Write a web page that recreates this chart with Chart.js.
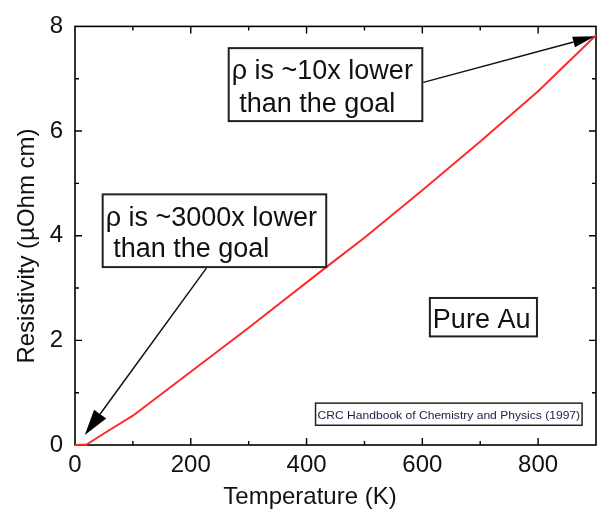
<!DOCTYPE html>
<html>
<head>
<meta charset="utf-8">
<script src="https://cdn.jsdelivr.net/npm/chart.js@4.4.1/dist/chart.umd.min.js"></script>
<style>
  html, body { margin: 0; padding: 0; background: #ffffff; }
  #wrap { width: 597px; height: 512px; }
</style>
</head>
<body>
<div id="wrap"><canvas id="c" width="597" height="512"></canvas></div>
<script>
// ---- data ----
const temperatures = [0, 20, 50, 100, 150, 200, 250, 300, 434, 500, 600, 700, 800, 900];
const resistivity  = [0, 0.01, 0.22, 0.56, 0.98, 1.40, 1.82, 2.24, 3.40, 3.96, 4.87, 5.80, 6.76, 7.83];
const xTickValues = [0, 200, 400, 600, 800];
const yTickValues = [0, 2, 4, 6, 8];
const xTitle = "Temperature (K)";
const yTitle = "Resistivity (µOhm cm)";
const noteTop = ["ρ is ~10x lower", " than the goal"];
const noteLow = ["ρ is ~3000x lower", " than the goal"];
const noteMaterial = ["Pure Au"];
const noteSource = ["CRC Handbook of Chemistry and Physics (1997)"];

const FONT = "'Liberation Sans', Arial, Helvetica, sans-serif";

// annotation layout (data units)
const annotations = {
  boxes: [
    { lines: noteTop, x0: 265.5, x1: 600, y0: 7.585, y1: 6.19, size: 27, padX: 3, base: [31, 64] },
    { lines: noteLow, x0: 47.8, x1: 434, y0: 4.79, y1: 3.40, size: 27, padX: 3, base: [31.5, 63] },
    { lines: noteMaterial, x0: 613, x1: 798, y0: 2.81, y1: 2.075, size: 27, padX: 3, base: [30.5] },
    { lines: noteSource, x0: 415.5, x1: 876, y0: 0.80, y1: 0.377, size: 11, padX: 2, base: [15.5], fit: true, color: '#1c1c48', lw: 1.5 }
  ],
  arrows: [
    { from: [601.7, 6.93], to: [898, 7.81], head: 22, half: 5.5 },
    { from: [227, 3.38], to: [17, 0.19], head: 26, half: 7.5 }
  ]
};

const framePlugin = {
  id: 'frame',
  beforeDatasetsDraw(chart) {
    const ctx = chart.ctx;
    const xs = chart.scales.x, ys = chart.scales.y;
    const a = chart.chartArea;
    ctx.save();
    ctx.strokeStyle = '#000';
    ctx.lineWidth = 1.6;
    ctx.strokeRect(a.left, a.top, a.right - a.left, a.bottom - a.top);
    ctx.lineWidth = 1.4;
    for (let v = 100; v < 900; v += 100) {
      const px = xs.getPixelForValue(v);
      const len = (v % 200 === 0) ? 7 : 4;
      ctx.beginPath();
      ctx.moveTo(px, a.bottom); ctx.lineTo(px, a.bottom - len);
      ctx.moveTo(px, a.top); ctx.lineTo(px, a.top + len);
      ctx.stroke();
    }
    for (let v = 1; v < 8; v += 1) {
      const py = ys.getPixelForValue(v);
      const len = (v % 2 === 0) ? 7 : 4;
      ctx.beginPath();
      ctx.moveTo(a.left, py); ctx.lineTo(a.left + len, py);
      ctx.moveTo(a.right, py); ctx.lineTo(a.right - len, py);
      ctx.stroke();
    }
    ctx.restore();
  },
  afterDraw(chart) {
    const ctx = chart.ctx;
    const xs = chart.scales.x, ys = chart.scales.y;
    ctx.save();
    // axis titles
    ctx.fillStyle = '#111';
    ctx.font = '24px ' + FONT;
    ctx.textAlign = 'center';
    ctx.textBaseline = 'middle';
    ctx.fillText(xTitle, 310, 497);
    ctx.save();
    ctx.translate(27, 246);
    ctx.rotate(-Math.PI / 2);
    ctx.fillText(yTitle, 0, 0);
    ctx.restore();

    // boxes with text
    annotations.boxes.forEach(b => {
      const x0 = xs.getPixelForValue(b.x0), x1 = xs.getPixelForValue(b.x1);
      const y0 = ys.getPixelForValue(b.y0), y1 = ys.getPixelForValue(b.y1);
      ctx.fillStyle = '#fff';
      ctx.fillRect(x0, y0, x1 - x0, y1 - y0);
      ctx.strokeStyle = '#222';
      ctx.lineWidth = b.lw || 2;
      ctx.strokeRect(x0, y0, x1 - x0, y1 - y0);
      ctx.fillStyle = b.color || '#111';
      ctx.font = b.size + 'px ' + FONT;
      ctx.textAlign = 'left';
      ctx.textBaseline = 'alphabetic';
      b.lines.forEach((t, i) => {
        if (b.fit) {
          const w = ctx.measureText(t).width;
          const target = (x1 - x0) - 2 * b.padX;
          ctx.save();
          ctx.translate(x0 + b.padX, y0 + b.base[i]);
          ctx.scale(target / w, 1);
          ctx.fillText(t, 0, 0);
          ctx.restore();
        } else {
          ctx.fillText(t, x0 + b.padX, y0 + b.base[i]);
        }
      });
    });

    // arrows
    annotations.arrows.forEach(ar => {
      const fx = xs.getPixelForValue(ar.from[0]), fy = ys.getPixelForValue(ar.from[1]);
      const tx = xs.getPixelForValue(ar.to[0]), ty = ys.getPixelForValue(ar.to[1]);
      const ang = Math.atan2(ty - fy, tx - fx);
      const bx = tx - ar.head * Math.cos(ang), by = ty - ar.head * Math.sin(ang);
      ctx.strokeStyle = '#111';
      ctx.lineWidth = 1.5;
      ctx.beginPath();
      ctx.moveTo(fx, fy); ctx.lineTo(bx, by);
      ctx.stroke();
      ctx.fillStyle = '#000';
      ctx.beginPath();
      ctx.moveTo(tx, ty);
      ctx.lineTo(bx + ar.half * Math.sin(ang), by - ar.half * Math.cos(ang));
      ctx.lineTo(bx - ar.half * Math.sin(ang), by + ar.half * Math.cos(ang));
      ctx.closePath();
      ctx.fill();
    });
    ctx.restore();
  }
};

new Chart(document.getElementById('c'), {
  type: 'line',
  data: {
    datasets: [{
      data: temperatures.map((t, i) => ({ x: t, y: resistivity[i] })),
      borderColor: '#ff2a2a',
      borderWidth: 2,
      pointRadius: 0,
      tension: 0,
      fill: false,
      clip: 4
    }]
  },
  options: {
    responsive: false,
    animation: false,
    devicePixelRatio: 1,
    layout: { padding: { top: 21, right: 1, left: 0, bottom: 0 } },
    plugins: { legend: { display: false }, tooltip: { enabled: false } },
    scales: {
      x: {
        type: 'linear', min: 0, max: 900,
        afterBuildTicks: s => { s.ticks = xTickValues.map(v => ({ value: v })); },
        ticks: { font: { family: FONT, size: 24 }, color: '#111', padding: 6, maxRotation: 0 },
        grid: { display: false, drawTicks: false },
        border: { display: false },
        afterFit: s => { s.height = 67; }
      },
      y: {
        type: 'linear', min: 0, max: 8,
        afterBuildTicks: s => { s.ticks = yTickValues.map(v => ({ value: v })); },
        ticks: { font: { family: FONT, size: 24 }, color: '#111', padding: 12 },
        grid: { display: false, drawTicks: false },
        border: { display: false },
        afterFit: s => { s.width = 75; }
      }
    }
  },
  plugins: [framePlugin]
});
</script>
</body>
</html>
